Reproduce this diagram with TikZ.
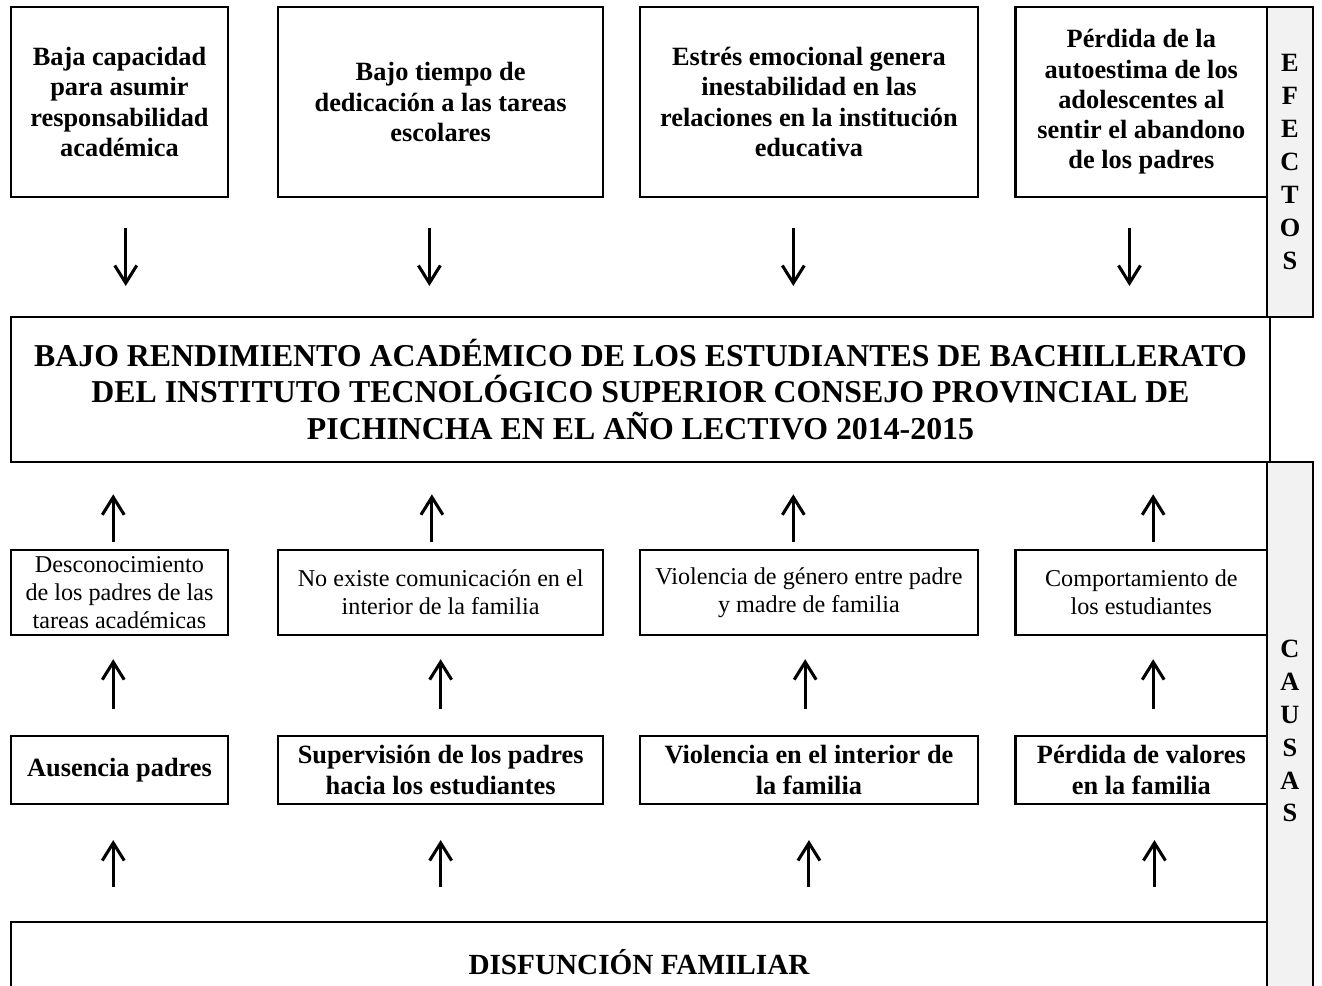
\documentclass[tikz,border=0pt]{standalone}
\usepackage{fontspec}
\setmainfont{Liberation Serif}
\usetikzlibrary{arrows.meta, positioning}
\definecolor{barfill}{HTML}{F2F2F2}

\begin{document}
\begin{tikzpicture}[x=0.016cm, y=-0.016cm,
    effbox/.style={shape=rectangle, draw=black, line width=1pt, align=center, inner sep=0pt, minimum height=3.04cm, font=\fontsize{12}{13.8}\selectfont\bfseries},
    whybox/.style={shape=rectangle, draw=black, line width=1pt, align=center, inner sep=0pt, minimum height=1.36cm, font=\fontsize{11}{12.6}\selectfont},
    causebox/.style={shape=rectangle, draw=black, line width=1pt, align=center, inner sep=0pt, minimum height=1.09cm, font=\fontsize{12}{13.8}\selectfont\bfseries},
    sidebar/.style={shape=rectangle, draw=black, line width=1pt, fill=barfill, align=center, inner sep=0pt, minimum width=0.74cm, font=\fontsize{12}{15}\selectfont\bfseries},
    arr/.style={-{Straight Barb[length=8pt, width=10pt]}, line width=1.4pt}]
    \useasboundingbox (0,0) rectangle (1322,985);
    \clip (0,0) rectangle (1322,985);

    \node[effbox, minimum width=3.47cm] (e1) at (119.5,102) {Baja capacidad\\para asumir\\responsabilidad\\académica};
    \node[effbox, minimum width=5.20cm, right=0.77cm of e1] (e2) {Bajo tiempo de\\dedicación a las tareas\\escolares};
    \node[effbox, minimum width=5.42cm, right=0.55cm of e2] (e3) {Estrés emocional genera\\inestabilidad en las\\relaciones en la institución\\educativa};
    \node[effbox, minimum width=4.03cm, right=0.56cm of e3] (e4) {Pérdida de la\\autoestima de los\\adolescentes al\\sentir el abandono\\de los padres};

    \node[shape=rectangle, draw=black, line width=1pt, align=center, inner sep=0pt, minimum width=20.14cm, minimum height=2.32cm, font=\fontsize{14.5}{16.7}\selectfont\bfseries] (problem) at (640.5,389.5) {BAJO RENDIMIENTO ACADÉMICO DE LOS ESTUDIANTES DE BACHILLERATO\\DEL INSTITUTO TECNOLÓGICO SUPERIOR CONSEJO PROVINCIAL DE\\PICHINCHA EN EL AÑO LECTIVO 2014-2015};

    \node[whybox, minimum width=3.47cm] (w1) at (119.5,592.5) {Desconocimiento\\de los padres de las\\tareas académicas};
    \node[whybox, minimum width=5.20cm, right=0.77cm of w1] (w2) {No existe comunicación en el\\interior de la familia};
    \node[whybox, minimum width=5.42cm, right=0.55cm of w2] (w3) {Violencia de género entre padre\\y madre de familia};
    \node[whybox, minimum width=4.03cm, right=0.56cm of w3] (w4) {Comportamiento de\\los estudiantes};

    \node[causebox, minimum width=3.47cm, below=1.58cm of w1] (c1) {Ausencia padres};
    \node[causebox, minimum width=5.20cm, below=1.58cm of w2] (c2) {Supervisión de los padres\\hacia los estudiantes};
    \node[causebox, minimum width=5.42cm, below=1.58cm of w3] (c3) {Violencia en el interior de\\la familia};
    \node[causebox, minimum width=4.03cm, below=1.58cm of w4] (c4) {Pérdida de valores\\en la familia};

    \node[shape=rectangle, draw=black, line width=1pt, inner sep=0pt, minimum width=20.10cm, minimum height=1.28cm, font=\fontsize{13.3}{15.3}\selectfont\bfseries] (disf) at (639,962) {DISFUNCIÓN FAMILIAR};

    \node[sidebar, minimum height=4.96cm] (efectos) at (1290,162) {E\\F\\E\\C\\T\\O\\S};
    \node[sidebar, minimum height=8.61cm] (causas) at (1290,731) {C\\A\\U\\S\\A\\S};

    \draw[arr, shorten <=0.48cm, shorten >=0.48cm] ([xshift=0.10cm]e1.south) -- ([xshift=0.10cm]e1.south |- problem.north);
    \draw[arr, shorten <=0.48cm, shorten >=0.48cm] ([xshift=-0.18cm]e2.south) -- ([xshift=-0.18cm]e2.south |- problem.north);
    \draw[arr, shorten <=0.48cm, shorten >=0.48cm] ([xshift=-0.25cm]e3.south) -- ([xshift=-0.25cm]e3.south |- problem.north);
    \draw[arr, shorten <=0.48cm, shorten >=0.48cm] ([xshift=-0.19cm]e4.south) -- ([xshift=-0.19cm]e4.south |- problem.north);

    \draw[arr, shorten <=0.11cm, shorten >=0.50cm] ([xshift=-0.10cm]w1.north) -- ([xshift=-0.10cm]w1.north |- problem.south);
    \draw[arr, shorten <=0.11cm, shorten >=0.50cm] ([xshift=-0.14cm]w2.north) -- ([xshift=-0.14cm]w2.north |- problem.south);
    \draw[arr, shorten <=0.11cm, shorten >=0.50cm] ([xshift=-0.25cm]w3.north) -- ([xshift=-0.25cm]w3.north |- problem.south);
    \draw[arr, shorten <=0.11cm, shorten >=0.50cm] ([xshift=0.19cm]w4.north) -- ([xshift=0.19cm]w4.north |- problem.south);

    \draw[arr, shorten <=0.42cm, shorten >=0.37cm] ([xshift=-0.10cm]c1.north) -- ([xshift=-0.10cm]w1.south);
    \draw[arr, shorten <=0.42cm, shorten >=0.37cm] (c2.north) -- (w2.south);
    \draw[arr, shorten <=0.42cm, shorten >=0.37cm] ([xshift=-0.06cm]c3.north) -- ([xshift=-0.06cm]w3.south);
    \draw[arr, shorten <=0.42cm, shorten >=0.37cm] ([xshift=0.19cm]c4.north) -- ([xshift=0.19cm]w4.south);

    \draw[arr, shorten <=0.54cm, shorten >=0.56cm] ([xshift=-0.10cm]c1.south |- disf.north) -- ([xshift=-0.10cm]c1.south);
    \draw[arr, shorten <=0.54cm, shorten >=0.56cm] (c2.south |- disf.north) -- (c2.south);
    \draw[arr, shorten <=0.54cm, shorten >=0.56cm] (c3.south |- disf.north) -- (c3.south);
    \draw[arr, shorten <=0.54cm, shorten >=0.56cm] ([xshift=0.21cm]c4.south |- disf.north) -- ([xshift=0.21cm]c4.south);
\end{tikzpicture}
\end{document}
